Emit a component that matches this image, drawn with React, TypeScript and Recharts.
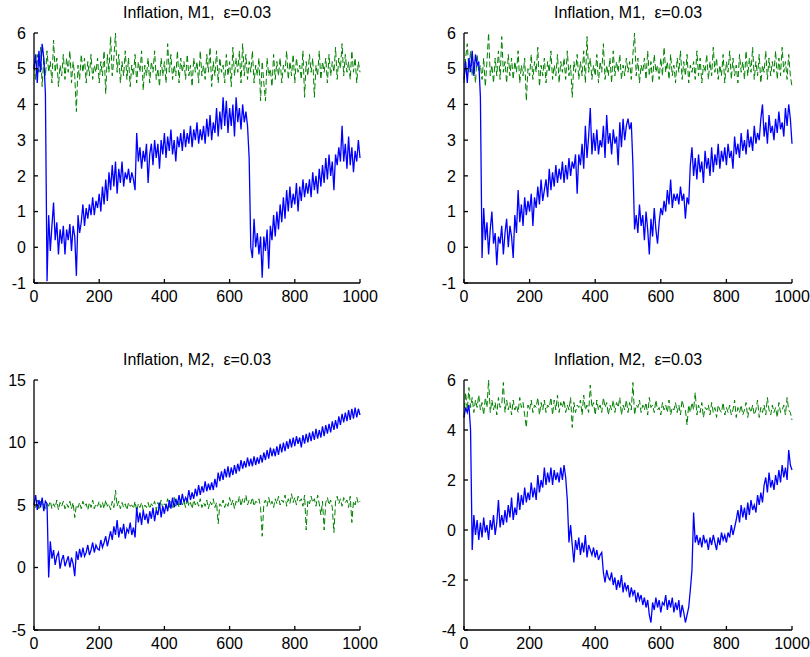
import React from 'react';
import { LineChart, Line, XAxis, YAxis } from 'recharts';

// sample spacing of the typed series (x = index * STEP)
const STEP = 5;
const X_TICKS = [0, 200, 400, 600, 800, 1000];
const TITLE_M1 = 'Inflation, M1,  ε=0.03';
const TITLE_M2 = 'Inflation, M2,  ε=0.03';
const Y_TICKS_M1 = [-1, 0, 1, 2, 3, 4, 5, 6];
const Y_TICKS_M2A = [-5, 0, 5, 10, 15];
const Y_TICKS_M2B = [-4, -2, 0, 2, 4, 6];

// top left
const blueA = [
  5.0, 5.4, 4.6, 5.5, 4.9, 5.7, 5.3, 4.3, -0.95, 0.9,
  -0.1, 0.6, 1.25, 0.2, 0.7, -0.2, 0.5, 0.1, 0.6, -0.2,
  0.5, 0.2, 0.65, -0.1, 0.6, 0.3, -0.8, 0.9, 0.4, 0.7,
  1.2, 0.6, 1.1, 0.8, 1.2, 0.9, 1.4, 0.9, 1.3, 1.1,
  1.5, 1.0, 1.7, 1.2, 1.9, 1.3, 2.1, 1.6, 2.3, 1.7,
  2.4, 1.5, 2.2, 1.8, 2.4, 1.7, 2.1, 1.9, 2.2, 1.8,
  2.1, 1.9, 1.6, 3.2, 2.4, 2.8, 2.2, 2.7, 2.4, 2.9,
  1.8, 2.6, 2.9, 2.3, 3.0, 2.5, 2.9, 2.2, 3.0, 2.6,
  3.2, 2.5, 3.1, 2.7, 3.3, 2.6, 3.0, 2.4, 3.1, 2.8,
  3.2, 2.7, 3.3, 2.8, 3.2, 2.9, 3.4, 2.8, 3.3, 3.0,
  3.5, 2.9, 3.3, 3.0, 3.4, 2.9, 3.6, 3.1, 3.7, 3.0,
  3.5, 3.2, 3.9, 3.1, 3.8, 3.3, 4.2, 3.4, 4.1, 3.2,
  3.9, 3.4, 4.0, 3.1, 4.2, 3.5, 3.9, 3.3, 4.0, 3.5,
  3.8, 3.4, 2.5, 0.0, -0.3, 0.8, 0.0, 0.4, -0.2, 0.3,
  -0.85, 0.3, -0.1, 0.5, -0.6, 0.6, 0.2, 0.9, 0.3, 1.0,
  0.5, 1.2, 0.7, 1.4, 0.8, 1.6, 1.0, 1.7, 1.1, 1.5,
  1.2, 1.8, 1.0, 1.7, 1.3, 1.9, 1.4, 1.8, 1.5, 1.9,
  1.4, 2.1, 1.6, 2.0, 1.5, 2.2, 1.7, 2.3, 1.8, 2.5,
  1.9, 2.6, 2.0, 2.4, 1.6, 2.6, 2.3, 2.8, 2.4, 3.4,
  2.4, 2.9, 2.2, 3.1, 2.3, 2.8, 2.1, 2.7, 2.4, 3.0,
  2.5,
];
const greenA = [
  5.1, 4.7, 5.4, 4.9, 5.6, 4.5, 5.3, 4.8, 5.5, 4.9,
  5.2, 4.6, 5.8, 4.9, 5.3, 4.5, 5.1, 4.8, 5.4, 4.7,
  5.3, 4.9, 5.5, 4.6, 5.2, 4.8, 3.8, 5.1, 4.7, 5.4,
  4.9, 5.3, 4.6, 5.2, 4.8, 5.4, 4.7, 5.1, 4.9, 5.3,
  4.6, 5.2, 4.8, 5.5, 4.3, 5.4, 4.9, 5.9, 4.8, 5.3,
  6.0, 4.9, 5.4, 4.6, 5.2, 4.8, 5.5, 4.7, 5.3, 4.5,
  5.1, 4.8, 5.4, 4.6, 5.2, 4.9, 5.5, 4.4, 5.1, 4.8,
  5.3, 4.6, 5.2, 4.9, 5.5, 4.7, 5.0, 4.5, 5.3, 4.8,
  5.2, 4.6, 5.7, 4.9, 5.4, 4.7, 5.1, 4.8, 5.5, 4.6,
  5.3, 4.9, 5.2, 4.7, 5.4, 4.8, 5.1, 4.5, 5.3, 4.9,
  5.2, 4.6, 5.5, 4.8, 5.1, 4.7, 5.4, 4.9, 5.6, 4.5,
  5.2, 4.8, 5.5, 4.6, 5.3, 4.9, 5.1, 4.6, 5.4, 4.8,
  5.2, 4.5, 5.6, 4.8, 5.3, 4.9, 5.5, 4.6, 5.7, 4.8,
  5.4, 4.7, 5.2, 4.9, 5.5, 4.6, 5.1, 4.8, 5.3, 4.1,
  5.2, 4.6, 4.1, 5.3, 4.8, 5.0, 4.5, 5.4, 4.7, 5.2,
  4.8, 5.3, 4.6, 5.1, 4.9, 5.5, 4.7, 5.2, 4.8, 5.4,
  4.6, 5.3, 4.9, 5.1, 4.7, 5.5, 4.2, 5.2, 4.8, 5.4,
  4.9, 5.3, 4.2, 5.1, 4.8, 5.5, 4.7, 5.2, 4.9, 5.3,
  4.6, 5.4, 4.8, 5.2, 4.9, 5.6, 4.7, 5.3, 5.0, 5.7,
  4.8, 5.4, 4.9, 5.2, 4.7, 5.5, 4.9, 5.3, 4.6, 5.2,
  4.9,
];

// top right
const blueB = [
  4.7, 5.2, 4.6, 5.3, 4.9, 5.5, 4.8, 5.4, 5.1, 5.2,
  4.2, -0.3, 1.1, 0.2, 0.7, -0.2, 0.5, 1.0, 0.1, 0.4,
  -0.5, 0.3, 0.1, 0.6, -0.2, 0.4, 0.8, 0.0, 0.6, 0.3,
  -0.3, 0.9, 0.4, 1.6, 0.7, 1.2, 0.6, 1.4, 0.9, 1.3,
  1.0, 1.5, 0.6, 1.4, 1.1, 1.7, 1.2, 1.9, 1.3, 1.6,
  1.9, 1.4, 2.2, 1.6, 2.1, 1.7, 2.3, 1.8, 2.2, 1.9,
  2.4, 1.8, 2.3, 1.9, 2.5, 2.0, 2.4, 2.2, 2.6, 1.5,
  2.6, 2.3, 2.9, 2.2, 3.4, 2.5, 3.1, 3.9, 2.6, 3.2,
  2.7, 3.3, 2.6, 3.0, 2.8, 3.4, 2.5, 3.7, 2.9, 3.2,
  2.6, 3.3, 2.9, 3.1, 2.3, 3.5, 2.8, 3.6, 3.0, 3.4,
  3.6, 3.3, 3.5, 2.3, 0.5, 0.9, 0.4, 1.2, 0.6, 0.9,
  0.2, 1.0, 0.5, -0.2, 0.8, 0.3, 1.1, 0.5, 0.1, 0.7,
  1.1, 0.9, 1.3, 1.0, 1.6, 1.2, 1.9, 1.1, 1.5, 1.3,
  1.5, 1.2, 1.7, 1.3, 1.5, 0.8, 1.4, 1.2, 2.3, 2.8,
  2.0, 2.5, 1.9, 2.6, 2.1, 2.4, 1.8, 2.7, 2.2, 2.5,
  2.0, 2.8, 2.1, 2.6, 2.3, 2.9, 2.2, 2.7, 2.4, 2.8,
  2.3, 2.9, 2.5, 2.7, 2.2, 3.1, 2.6, 2.9, 2.5, 3.2,
  2.7, 3.0, 2.6, 3.3, 2.8, 3.1, 2.7, 3.4, 2.9, 3.2,
  3.0, 3.6, 4.0, 3.1, 3.5, 2.9, 3.7, 3.2, 3.4, 3.0,
  3.6, 3.2, 3.8, 3.3, 3.5, 3.1, 3.9, 3.4, 4.0, 3.6,
  2.9,
];
const greenB = [
  4.6, 5.3, 5.7, 4.9, 5.5, 4.8, 5.2, 4.6, 5.4, 4.9,
  5.1, 4.7, 5.3, 4.5, 5.2, 6.0, 4.8, 5.1, 4.6, 5.3,
  4.8, 5.5, 4.7, 5.9, 4.9, 5.2, 4.6, 5.4, 4.8, 5.3,
  4.7, 5.2, 4.9, 5.5, 4.6, 5.1, 4.8, 5.3, 4.1, 5.0,
  4.8, 5.4, 4.7, 5.2, 4.9, 5.6, 4.5, 5.1, 4.8, 5.3,
  4.6, 5.2, 4.9, 5.5, 4.7, 5.1, 4.8, 5.4, 4.6, 5.2,
  4.9, 5.3, 4.7, 5.5, 4.8, 5.1, 4.2, 5.2, 4.9, 5.4,
  4.7, 5.2, 4.8, 5.5, 4.6, 5.9, 4.9, 5.3, 4.7, 5.1,
  4.8, 5.4, 4.6, 5.2, 4.9, 5.7, 4.7, 5.1, 4.8, 5.3,
  4.6, 5.5, 4.8, 5.2, 4.9, 5.4, 4.7, 5.1, 4.8, 5.3,
  4.9, 5.2, 4.7, 5.4, 6.0, 4.8, 5.3, 4.6, 5.1, 4.9,
  5.3, 4.7, 5.5, 4.8, 5.2, 4.6, 5.4, 4.9, 5.1, 4.7,
  5.3, 4.8, 5.6, 4.9, 5.2, 4.7, 5.4, 4.8, 5.1, 4.6,
  5.3, 4.9, 5.5, 4.7, 5.2, 4.8, 5.4, 4.6, 5.1, 4.9,
  5.2, 4.7, 5.5, 4.8, 5.3, 4.6, 5.1, 4.9, 5.4, 4.7,
  5.2, 4.8, 5.6, 4.9, 5.3, 4.7, 5.1, 4.8, 5.4, 4.6,
  5.2, 4.9, 5.5, 4.7, 5.3, 4.8, 5.1, 4.6, 5.4, 4.9,
  5.2, 4.7, 5.5, 4.8, 5.3, 4.9, 5.6, 4.7, 5.2, 4.8,
  5.4, 4.6, 5.1, 4.9, 5.5, 4.7, 5.3, 4.8, 5.2, 4.9,
  5.5, 4.7, 5.3, 4.8, 5.6, 4.9, 5.2, 4.7, 5.4, 4.8,
  4.5,
];

// bottom left
const blueC = [
  5.0, 5.8, 4.6, 5.4, 4.8, 5.6, 4.5, 5.3, 5.1, -0.8,
  2.1, 0.7, 1.4, 0.2, 0.9, 1.2, -0.1, 0.6, 1.0, 0.1,
  0.5, 0.9, 0.0, 0.8, 0.3, -0.7, 1.3, 0.6, 1.5, 0.8,
  1.6, 0.9, 1.2, 1.8, 1.0, 1.4, 2.0, 1.2, 1.8, 1.5,
  1.4, 2.2, 1.6, 2.0, 2.5, 1.7, 2.3, 2.9, 2.2, 3.3,
  2.6, 3.8, 2.4, 3.2, 2.7, 3.5, 2.3, 3.1, 2.8, 3.6,
  2.6, 3.2, 2.4, 4.8, 3.6, 4.4, 3.4, 4.6, 3.8, 4.3,
  3.5, 4.5, 3.9, 4.8, 3.7, 4.6, 4.2, 5.2, 4.0, 4.9,
  4.3, 5.1, 4.5, 5.4, 4.7, 5.6, 4.8, 5.5, 5.0, 5.8,
  5.0, 5.9, 5.2, 5.6, 5.3, 6.2, 5.4, 6.0, 5.5, 6.3,
  5.7, 6.6, 5.8, 6.5, 6.0, 6.9, 6.1, 6.7, 6.2, 6.8,
  6.2, 7.1, 6.4, 7.6, 6.9, 7.7, 7.0, 7.9, 7.2, 8.1,
  7.2, 8.0, 7.4, 8.2, 7.5, 8.3, 7.7, 8.6, 7.9, 8.5,
  8.0, 8.8, 8.1, 8.7, 8.1, 8.9, 8.2, 8.8, 8.3, 9.0,
  8.4, 9.2, 8.6, 9.4, 8.7, 9.6, 8.9, 9.5, 8.9, 9.7,
  9.0, 9.9, 9.2, 10.0, 9.3, 10.1, 9.5, 10.3, 9.6, 10.4,
  9.7, 10.5, 9.9, 10.4, 9.6, 10.6, 9.9, 10.7, 10.0, 10.8,
  10.1, 10.9, 10.2, 11.1, 10.3, 11.0, 10.4, 11.3, 10.5, 11.4,
  10.7, 11.5, 10.8, 11.7, 11.0, 11.8, 11.1, 12.1, 11.4, 12.3,
  11.6, 12.4, 11.7, 12.6, 11.8, 12.7, 11.9, 12.8, 12.0, 12.7,
  12.2,
];
const greenC = [
  5.2, 4.8, 5.4, 4.7, 5.3, 4.9, 5.1, 4.6, 5.2, 4.9,
  5.3, 4.7, 5.1, 4.8, 5.4, 4.6, 5.2, 4.9, 5.3, 4.7,
  5.1, 4.8, 5.3, 4.7, 5.2, 4.0, 5.0, 4.8, 5.2, 4.7,
  5.3, 4.9, 5.1, 4.6, 5.2, 4.8, 5.4, 4.7, 5.1, 4.9,
  5.3, 4.8, 5.2, 4.7, 5.4, 4.9, 5.1, 4.6, 5.3, 4.8,
  6.2, 4.9, 5.3, 4.7, 5.2, 4.8, 5.1, 4.6, 5.2, 4.9,
  5.0, 4.7, 5.3, 4.5, 5.1, 4.8, 5.2, 4.6, 5.0, 4.8,
  5.2, 4.7, 5.1, 4.9, 5.3, 4.6, 5.2, 4.8, 5.4, 4.7,
  5.1, 4.9, 5.5, 4.8, 5.3, 4.7, 5.6, 4.9, 5.4, 4.8,
  5.5, 5.0, 5.3, 4.8, 5.6, 4.9, 5.2, 4.7, 5.4, 5.0,
  5.3, 4.9, 5.5, 4.8, 5.2, 4.9, 5.4, 4.7, 5.3, 5.0,
  5.5, 4.8, 5.2, 3.5, 5.1, 4.9, 5.4, 4.8, 5.2, 4.9,
  5.6, 5.0, 5.4, 4.7, 5.3, 5.1, 5.7, 4.9, 5.5, 5.2,
  5.8, 5.0, 5.4, 5.1, 5.6, 4.9, 5.3, 5.2, 5.5, 4.8,
  2.5, 5.1, 5.4, 4.9, 5.6, 5.0, 5.3, 4.8, 5.5, 5.1,
  5.7, 5.0, 5.4, 5.2, 5.8, 4.9, 5.5, 5.1, 5.9, 5.2,
  5.6, 5.0, 5.7, 5.3, 5.5, 4.9, 5.8, 3.0, 5.4, 5.1,
  5.7, 5.2, 5.5, 4.9, 5.8, 5.1, 4.2, 5.3, 3.0, 5.2,
  5.6, 5.0, 5.4, 4.8, 2.8, 5.3, 5.7, 5.1, 5.5, 4.9,
  5.6, 5.2, 5.4, 4.8, 5.7, 3.6, 5.3, 5.0, 5.6, 5.1,
  5.3,
];

// bottom right
const blueD = [
  4.5, 4.9, 4.7, 5.0, 4.0, -0.8, 0.6, -0.2, 0.4, -0.4,
  0.3, -0.3, 0.5, -0.1, 0.2, -0.4, 0.4, 0.0, 0.6, -0.2,
  0.3, 1.2, 0.1, 0.6, 0.2, 0.8, 0.3, 1.0, 0.5, 1.3,
  0.4, 0.9, 0.6, 1.5, 0.8, 1.4, 1.0, 1.7, 1.1, 1.5,
  1.2, 1.9, 1.3, 1.7, 1.2, 2.2, 1.5, 2.0, 1.7, 2.5,
  1.8, 2.3, 1.9, 2.5, 1.8, 2.4, 2.0, 2.3, 1.9, 2.5,
  2.0, 2.6, 2.1, 1.2, -0.5, 0.2, -0.6, -1.3, -0.4, -0.8,
  -0.3, -1.0, -0.5, -0.9, -0.2, -1.1, -0.6, -0.8, -1.0, -0.7,
  -1.1, -0.8, -1.2, -1.0, -0.9, -1.7, -2.1, -1.6, -1.9, -2.0,
  -1.7, -2.2, -1.9, -2.4, -2.0, -2.3, -1.8, -2.5, -2.1, -2.4,
  -2.2, -2.7, -2.3, -2.6, -2.4, -2.9, -2.5, -2.8, -2.6, -3.0,
  -2.7, -3.1, -2.8, -3.4, -3.7, -2.9, -3.2, -2.7, -3.1, -2.8,
  -3.3, -2.9, -3.0, -2.6, -3.2, -2.8, -3.1, -2.7, -3.3, -2.9,
  -3.2, -2.8, -3.5, -3.0, -3.3, -3.7, -3.4, -3.1, -2.4, -1.6,
  0.7, -0.5, -0.2, -0.6, -0.3, -0.7, -0.2, -0.5, -0.4, -0.8,
  -0.3, -0.6, -0.2, -0.5, -0.8, -0.3, -0.6, -0.1, -0.4, -0.2,
  -0.5, -0.1, -0.3, 0.2, -0.2, 0.1, 0.4, 0.8, 0.3, 1.0,
  0.5, 0.9, 0.4, 1.1, 0.6, 1.2, 0.8, 1.0, 0.7, 1.4,
  1.0, 1.5, 1.1, 1.8, 2.1, 1.5, 2.3, 1.7, 2.0, 1.6,
  2.2, 1.8, 2.4, 1.9, 2.6, 2.1, 2.5, 2.0, 3.2, 2.6,
  2.4,
];
const greenD = [
  4.5, 5.5, 4.8, 5.7, 4.9, 5.3, 4.7, 5.2, 4.9, 5.4,
  4.8, 5.1, 4.6, 5.3, 4.9, 6.0, 4.7, 5.2, 4.8, 5.1,
  4.6, 5.3, 4.9, 5.0, 5.9, 4.7, 5.2, 4.8, 5.1, 4.6,
  5.2, 4.8, 5.0, 4.7, 5.3, 4.9, 5.1, 4.6, 4.1, 5.0,
  4.8, 5.2, 4.7, 5.0, 4.9, 5.3, 4.6, 5.1, 4.8, 5.2,
  4.7, 5.0, 4.9, 5.3, 4.6, 5.2, 4.8, 5.4, 4.7, 5.1,
  4.9, 5.2, 4.7, 5.0, 4.8, 5.3, 4.1, 5.1, 4.7, 5.0,
  4.9, 5.2, 4.6, 5.4, 4.8, 5.0, 4.7, 5.8, 4.9, 5.1,
  4.6, 5.2, 4.8, 5.0, 4.7, 5.3, 4.9, 5.1, 4.6, 5.0,
  4.8, 5.2, 4.7, 5.1, 4.9, 5.3, 4.6, 5.0, 4.8, 5.2,
  4.7, 5.1, 4.8, 5.9, 4.6, 5.0, 4.9, 5.2, 4.7, 5.0,
  4.8, 5.1, 4.6, 5.3, 4.9, 5.0, 4.7, 5.2, 4.8, 4.9,
  4.6, 5.1, 4.8, 5.0, 4.7, 5.2, 4.6, 4.9, 4.8, 5.1,
  4.7, 5.0, 4.6, 5.2, 4.9, 4.8, 4.2, 5.0, 4.7, 5.1,
  4.8, 5.5, 4.6, 5.0, 4.7, 5.1, 4.5, 4.9, 4.8, 5.0,
  4.6, 5.1, 4.7, 4.9, 4.5, 5.0, 4.8, 4.7, 5.1, 4.6,
  4.9, 4.7, 5.0, 4.6, 4.8, 5.2, 4.5, 4.9, 4.7, 5.0,
  4.6, 4.8, 5.1, 4.5, 4.9, 4.7, 5.0, 4.6, 4.8, 5.2,
  4.5, 4.9, 4.7, 5.0, 4.6, 5.3, 4.8, 4.6, 5.0, 4.7,
  4.9, 4.5, 5.1, 4.7, 4.8, 5.0, 4.6, 5.3, 4.8, 4.7,
  4.4,
];

const buildRows = (blue: number[], green: number[]) =>
  blue.map((b, i) => ({ x: i * STEP, blue: b, green: green[i] }));

const FONT = '"Liberation Sans", Arial, Helvetica, sans-serif';
const tickStyle = { fill: '#000', fontSize: 16, fontFamily: FONT };
const axisStroke = { stroke: '#000', strokeWidth: 1.3 };

const CHART_W = 400;
const CHART_H = 320;
const PLOT_TOP = 33;
const Y_AXIS_W = 34;
const X_AXIS_H = 37;

type PanelProps = {
  title: string;
  rows: { x: number; blue: number; green: number }[];
  yTicks: number[];
  left: number;
  top: number;
  right: number;
};

const Panel: React.FC<PanelProps> = ({ title, rows, yTicks, left, top, right }) => {
  const domain = [yTicks[0], yTicks[yTicks.length - 1]];
  return (
    <div style={{ position: 'absolute', left, top, width: CHART_W, height: CHART_H }}>
      <LineChart
        width={CHART_W}
        height={CHART_H}
        data={rows}
        margin={{ top: PLOT_TOP, right, bottom: 0, left: 0 }}
      >
        <XAxis
          dataKey="x"
          type="number"
          domain={[0, 1000]}
          ticks={X_TICKS}
          interval={0}
          height={X_AXIS_H}
          tickSize={-4}
          tickMargin={12}
          tick={tickStyle}
          axisLine={axisStroke}
          tickLine={axisStroke}
        />
        <XAxis
          xAxisId="top"
          orientation="top"
          dataKey="x"
          type="number"
          domain={[0, 1000]}
          ticks={X_TICKS}
          interval={0}
          height={0}
          tickSize={-4}
          tick={false}
          axisLine={axisStroke}
          tickLine={axisStroke}
        />
        <YAxis
          type="number"
          domain={domain}
          ticks={yTicks}
          interval={0}
          allowDataOverflow
          width={Y_AXIS_W}
          tickSize={-4}
          tickMargin={12}
          tick={tickStyle}
          axisLine={axisStroke}
          tickLine={axisStroke}
        />
        <YAxis
          yAxisId="right"
          orientation="right"
          type="number"
          domain={domain}
          ticks={yTicks}
          interval={0}
          allowDataOverflow
          width={0}
          tickSize={-4}
          tick={false}
          axisLine={axisStroke}
          tickLine={axisStroke}
        />
        <Line
          type="linear"
          dataKey="green"
          stroke="#008000"
          strokeWidth={1}
          strokeDasharray="6 3"
          dot={false}
          activeDot={false}
          isAnimationActive={false}
        />
        <Line
          type="linear"
          dataKey="blue"
          stroke="#0000ff"
          strokeWidth={1.3}
          dot={false}
          activeDot={false}
          isAnimationActive={false}
        />
      </LineChart>
      <div
        style={{
          position: 'absolute',
          left: Y_AXIS_W,
          width: CHART_W - Y_AXIS_W - right,
          top: 5,
          textAlign: 'center',
          fontFamily: FONT,
          fontSize: 16,
          lineHeight: '16px',
          whiteSpace: 'pre',
          color: '#000',
        }}
      >
        {title}
      </div>
    </div>
  );
};

export default function App() {
  return (
    <div
      style={{
        position: 'absolute',
        left: 0,
        top: 0,
        width: 810,
        height: 657,
        background: '#fff',
        overflow: 'hidden',
      }}
    >
      <Panel title={TITLE_M1} rows={buildRows(blueA, greenA)} yTicks={Y_TICKS_M1} left={0} top={0} right={40} />
      <Panel title={TITLE_M1} rows={buildRows(blueB, greenB)} yTicks={Y_TICKS_M1} left={430} top={0} right={38} />
      <Panel title={TITLE_M2} rows={buildRows(blueC, greenC)} yTicks={Y_TICKS_M2A} left={0} top={347} right={40} />
      <Panel title={TITLE_M2} rows={buildRows(blueD, greenD)} yTicks={Y_TICKS_M2B} left={430} top={347} right={38} />
    </div>
  );
}
